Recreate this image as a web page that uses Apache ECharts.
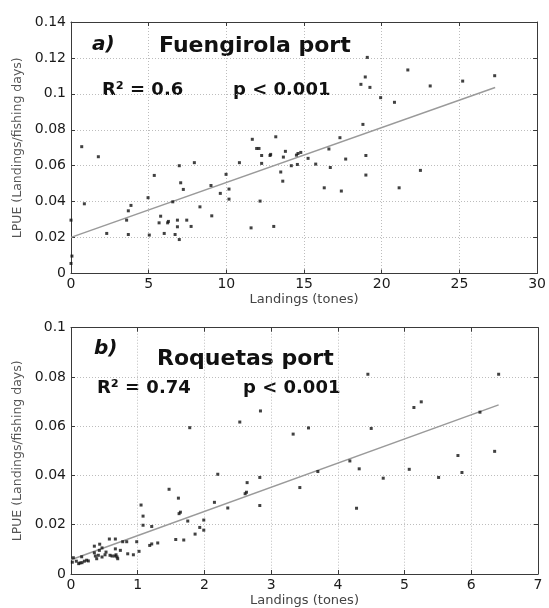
<!DOCTYPE html>
<html>
<head>
<meta charset="utf-8">
<script src="https://cdn.jsdelivr.net/npm/echarts@6/dist/echarts.min.js"></script>
<style>
  html, body { margin: 0; padding: 0; background: #fff; }
  #chart { width: 549px; height: 608px; }
</style>
</head>
<body>
<div id="chart"></div>
<script>
  // landings (tones) vs LPUE
  const fuengirolaPoints = [
    [0.69, 0.0706], [1.76, 0.065], [0.86, 0.0388], [0, 0.0297], [0.06, 0.0097], [0, 0.0056],
    [2.3, 0.0223], [3.86, 0.0379], [3.69, 0.0349], [3.58, 0.0297], [3.69, 0.0217], [4.96, 0.0422],
    [5.36, 0.0546], [5.04, 0.0214], [5.77, 0.0319], [5.67, 0.0282], [6.0, 0.0223], [6.22, 0.0282],
    [6.27, 0.029], [6.55, 0.0399], [6.7, 0.0217], [6.85, 0.0297], [6.85, 0.026], [6.97, 0.0189],
    [6.97, 0.06], [7.06, 0.0505], [7.23, 0.0468], [7.45, 0.0297], [7.73, 0.0262], [7.94, 0.0617],
    [8.3, 0.0371], [9.01, 0.049], [9.06, 0.0321], [9.61, 0.0446], [9.98, 0.0552], [10.17, 0.047],
    [10.17, 0.0414], [10.84, 0.0617], [11.59, 0.0254], [11.67, 0.0747], [11.95, 0.0696], [12.1, 0.0696],
    [12.17, 0.0403], [12.27, 0.0657], [12.27, 0.0613], [12.81, 0.0657], [12.85, 0.0663], [13.05, 0.0262],
    [13.18, 0.0761], [13.5, 0.0565], [13.63, 0.0514], [13.67, 0.0648], [13.8, 0.068], [14.18, 0.06],
    [14.57, 0.0607], [14.51, 0.0659], [14.61, 0.0668], [14.79, 0.0674], [15.26, 0.0641], [15.75, 0.0609],
    [16.3, 0.0477], [16.6, 0.0693], [16.69, 0.059], [17.31, 0.0756], [17.4, 0.0459], [17.68, 0.0637],
    [18.66, 0.1053], [18.79, 0.083], [18.94, 0.1094], [18.98, 0.0657], [18.98, 0.0548], [19.07, 0.1203],
    [19.24, 0.1036], [19.93, 0.0979], [20.82, 0.0953], [21.12, 0.0477], [21.68, 0.1133], [22.49, 0.0574],
    [23.12, 0.1044], [25.21, 0.1071], [27.27, 0.1101]
  ]

  const roquetasPoints = [
    [0.02, 0.0048], [0.08, 0.0052], [0.035, 0.0066], [0.115, 0.0042], [0.135, 0.0045], [0.165, 0.0046],
    [0.2, 0.0052], [0.235, 0.0056], [0.26, 0.0053], [0.16, 0.007], [0.35, 0.0113], [0.35, 0.0086],
    [0.365, 0.0073], [0.385, 0.0062], [0.41, 0.0076], [0.425, 0.0096], [0.43, 0.0121], [0.465, 0.0106],
    [0.465, 0.0069], [0.51, 0.0078], [0.525, 0.0089], [0.575, 0.0142], [0.585, 0.0076], [0.615, 0.0073],
    [0.655, 0.0073], [0.665, 0.0142], [0.665, 0.0102], [0.675, 0.0078], [0.69, 0.0069], [0.7, 0.0062],
    [0.74, 0.0096], [0.775, 0.0131], [0.835, 0.0131], [0.85, 0.0082], [0.935, 0.0078], [0.985, 0.0131],
    [1.02, 0.0092], [1.05, 0.028], [1.08, 0.0235], [1.08, 0.0198], [1.21, 0.0193], [1.47, 0.0344],
    [1.61, 0.0308], [1.64, 0.0251], [1.62, 0.0245], [1.75, 0.0215], [1.78, 0.0594], [1.18, 0.0116],
    [1.21, 0.0122], [1.3, 0.0126], [1.57, 0.014], [1.69, 0.0138], [1.86, 0.0162], [1.93, 0.0189],
    [1.99, 0.0219], [1.99, 0.0178], [2.15, 0.0291], [2.2, 0.0405], [2.35, 0.0268], [2.53, 0.0617],
    [2.61, 0.0326], [2.63, 0.0332], [2.64, 0.0371], [2.83, 0.0392], [2.83, 0.0278], [2.84, 0.0662],
    [3.33, 0.0568], [3.43, 0.0351], [3.56, 0.0593], [3.7, 0.0416], [4.18, 0.0459], [4.28, 0.0267],
    [4.32, 0.0427], [4.45, 0.0811], [4.5, 0.0591], [4.68, 0.0389], [5.07, 0.0425], [5.14, 0.0676],
    [5.25, 0.0699], [5.51, 0.0392], [5.8, 0.0481], [5.86, 0.0412], [6.13, 0.0657], [6.35, 0.0498],
    [6.41, 0.0811]
  ]

  // linear fits: intercept, slope, x range of the drawn line
  const fuengirolaFit = { a: 0.0201, b: 0.003058, from: 0, to: 27.3 }
  const roquetasFit = { a: 0.0058, b: 0.00981, from: 0, to: 6.41 }

  const fuengirolaXTicks = { min: 0, max: 30, interval: 5 }
  const fuengirolaYTicks = { min: 0, max: 0.14, interval: 0.02 }
  const roquetasXTicks = { min: 0, max: 7, interval: 1 }
  const roquetasYTicks = { min: 0, max: 0.1, interval: 0.02 }

  const FONT = 'DejaVu Sans'
  const AXIS_COLOR = '#3a3a3a'

  function fitLine (fit) {
    return [fit.from, fit.to].map(x => [x, fit.a + fit.b * x])
  }

  function baseAxis (ticks, gridIndex, position, isMain, extra) {
    return Object.assign({
      type: 'value',
      gridIndex,
      position,
      min: ticks.min,
      max: ticks.max,
      interval: ticks.interval,
      axisLine: { show: true, onZero: false, lineStyle: { color: AXIS_COLOR, width: 1 } },
      axisTick: { show: true, inside: true, length: 4, lineStyle: { color: AXIS_COLOR } },
      axisLabel: {
        show: isMain,
        color: '#1a1a1a',
        fontFamily: FONT,
        fontSize: 14
      },
      splitLine: {
        show: isMain,
        lineStyle: { color: '#bdbdbd', type: [1, 2], width: 1 }
      }
    }, extra || {})
  }

  function xAxes (ticks, gridIndex) {
    return [
      baseAxis(ticks, gridIndex, 'bottom', true, {
        name: 'Landings (tones)',
        nameLocation: 'middle',
        nameGap: 20,
        nameTextStyle: { color: '#444', fontFamily: FONT, fontSize: 13 },
        axisLabel: { color: '#1a1a1a', fontFamily: FONT, fontSize: 14, margin: 4 }
      }),
      baseAxis(ticks, gridIndex, 'top', false)
    ]
  }

  function yAxes (ticks, gridIndex) {
    return [
      baseAxis(ticks, gridIndex, 'left', true, {
        name: 'LPUE (Landings/fishing days)',
        nameLocation: 'middle',
        nameGap: 40,
        nameTextStyle: { color: '#555', fontFamily: FONT, fontSize: 12.5 },
        axisLabel: { color: '#1a1a1a', fontFamily: FONT, fontSize: 14, margin: 5 }
      }),
      baseAxis(ticks, gridIndex, 'right', false)
    ]
  }

  function scatterSeries (points, axisIndex) {
    return {
      type: 'scatter',
      xAxisIndex: axisIndex,
      yAxisIndex: axisIndex,
      data: points,
      symbol: 'rect',
      symbolSize: 3,
      itemStyle: { color: '#111' },
      silent: true,
      z: 3
    }
  }

  function fitSeries (fit, axisIndex) {
    return {
      type: 'line',
      xAxisIndex: axisIndex,
      yAxisIndex: axisIndex,
      data: fitLine(fit),
      showSymbol: false,
      lineStyle: { color: '#9a9a9a', width: 1.5 },
      silent: true,
      z: 2
    }
  }

  function label (text, x, y, size, italic) {
    return {
      type: 'text',
      x,
      y,
      silent: true,
      style: {
        text,
        fill: '#111',
        fontFamily: FONT,
        fontSize: size,
        fontWeight: 'bold',
        fontStyle: italic ? 'italic' : 'normal',
        textAlign: 'left',
        textVerticalAlign: 'middle',
        verticalAlign: 'middle'
      }
    }
  }

  const chart = echarts.init(document.getElementById('chart'))

  chart.setOption({
    animation: false,
    backgroundColor: '#fff',
    grid: [
      { left: 71, top: 22, width: 467, height: 251.5 },
      { left: 71, top: 327.7, width: 467, height: 249.6 }
    ],
    xAxis: [...xAxes(fuengirolaXTicks, 0), ...xAxes(roquetasXTicks, 1)],
    yAxis: [...yAxes(fuengirolaYTicks, 0), ...yAxes(roquetasYTicks, 1)],
    series: [
      fitSeries(fuengirolaFit, 0),
      scatterSeries(fuengirolaPoints, 0),
      fitSeries(roquetasFit, 2),
      scatterSeries(roquetasPoints, 2)
    ],
    graphic: [
      label('a)', 92, 45, 20, true),
      label('Fuengirola port', 159, 46, 22, false),
      label('R\u00b2 = 0.6', 102, 90, 18, false),
      label('p < 0.001', 233, 90, 18, false),
      label('b)', 94, 349, 20, true),
      label('Roquetas port', 157, 359, 22, false),
      label('R\u00b2 = 0.74', 97, 388, 18, false),
      label('p < 0.001', 243, 388, 18, false)
    ]
  })
</script>
</body>
</html>
